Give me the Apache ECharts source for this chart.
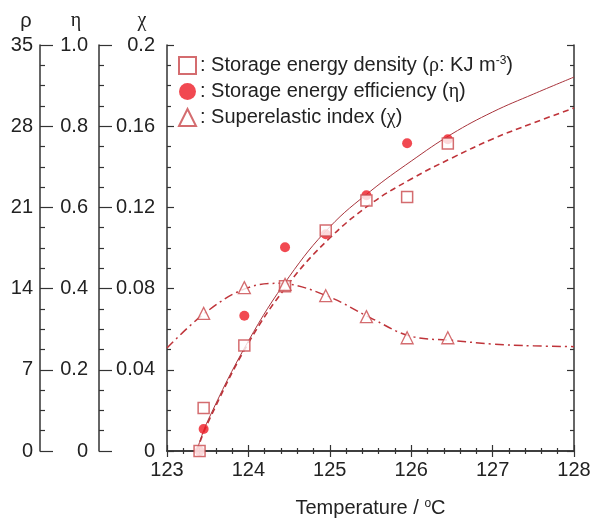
<!DOCTYPE html>
<html>
<head>
<meta charset="UTF-8">
<title>Storage energy vs temperature</title>
<script src="https://cdn.jsdelivr.net/npm/echarts@6/dist/echarts.min.js"></script>
<style>
  html, body { margin: 0; padding: 0; background: #fff; }
  #main { width: 591px; height: 519px; }
</style>
</head>
<body>
<div id="main"></div>
<script>
// measured points
const temps = [123.4, 123.45, 123.95, 124.45, 124.95, 125.45, 125.95, 126.45];
const density = [0, 3.7, 9.1, 14.2, 19.0, 21.6, 21.9, 26.5];
const efficiency = [0, 0.054, 0.333, 0.502, 0.534, 0.63, 0.758, 0.768];
const chiTemps = [123.45, 123.95, 124.45, 124.95, 125.45, 125.95, 126.45];
const chi = [0.0678, 0.0805, 0.0821, 0.0765, 0.0662, 0.0558, 0.0558];

// fitted curves
const fitTemps = [123.365, 123.5, 124, 124.5, 125, 125.5, 126, 126.5, 127, 127.5, 128];
const effFit = [0, 0.074, 0.271, 0.429, 0.552, 0.640, 0.714, 0.781, 0.835, 0.879, 0.921];
const denFit = [0, 2.41, 9.31, 14.48, 18.36, 21.29, 23.45, 25.26, 26.9, 28.28, 29.57];
const chiFitTemps = [123, 123.5, 124, 124.4, 124.5, 125, 125.5, 126, 126.5, 127, 127.5, 128];
const chiFit = [0.0507, 0.069, 0.0805, 0.0826, 0.0823, 0.0758, 0.0656, 0.0565, 0.0545, 0.0527, 0.0518, 0.0514];

const zip = (xs, ys) => xs.map((x, i) => [x, ys[i]]);

const markRed = '#c9474b';
const dotRed = '#ee1c25';
const lineRed = '#bf343a';
const ink = '#222';
const font = 'Liberation Sans, Arial, sans-serif';
const greek = 'Liberation Serif, Times New Roman, serif';
const fs = 20;
const supStyle = { fontSize: 12, fontFamily: font, color: ink, verticalAlign: 'top', padding: [0, 0, 9, 0] };

const chart = echarts.init(document.getElementById('main'));

function leftAxis(opt) {
    return Object.assign({
        type: 'value',
        position: 'left',
        nameLocation: 'end',
        nameGap: 14,
        nameTextStyle: { color: ink, fontSize: fs, fontFamily: greek, padding: [0, 46, 0, 0] },
        axisLine: { show: true, lineStyle: { color: '#333', width: 1.5 } },
        axisTick: { show: true, inside: true, length: 13, lineStyle: { color: '#333', width: 1.2 } },
        minorTick: { show: true, splitNumber: 4, length: 5, lineStyle: { color: '#333', width: 1.2 } },
        axisLabel: { color: ink, fontSize: fs, fontFamily: font, margin: 8 },
        splitLine: { show: false }
    }, opt);
}

const option = {
    backgroundColor: '#fff',
    animation: false,
    grid: { left: 167, right: 17, top: 45, bottom: 68, containLabel: false, outerBoundsMode: 'none' },
    legend: {
        data: ['density', 'efficiency', 'chi'],
        orient: 'vertical',
        left: 173,
        top: 50,
        itemWidth: 17,
        itemHeight: 17,
        itemGap: 6,
        formatter: function (name) {
            if (name === 'density') return ': Storage energy density ({g|ρ}: KJ m{sup|-3})';
            if (name === 'efficiency') return ': Storage energy efficiency ({g|η})';
            return ': Superelastic index ({g|χ})';
        },
        textStyle: {
            color: ink, fontSize: fs, fontFamily: font, padding: [0, 0, 0, -1],
            rich: {
                g: { fontSize: fs, fontFamily: greek, color: ink },
                sup: supStyle
            }
        }
    },
    xAxis: [{
        type: 'value',
        min: 123, max: 128, interval: 1,
        name: 'Temperature / {sup|o}C',
        nameLocation: 'middle',
        nameGap: 47,
        nameTextStyle: {
            color: ink, fontSize: fs, fontFamily: font,
            rich: { sup: supStyle }
        },
        axisLine: { lineStyle: { color: '#333', width: 1.5 } },
        axisTick: { inside: true, length: 6, lineStyle: { color: '#333', width: 1.2 } },
        minorTick: { show: true, splitNumber: 5, length: 3, lineStyle: { color: '#333', width: 1.2 } },
        axisLabel: { color: ink, fontSize: fs, fontFamily: font, margin: 9 },
        splitLine: { show: false }
    }, {
        type: 'value',
        position: 'top',
        min: 123, max: 128, interval: 1,
        axisLine: { lineStyle: { color: '#333', width: 1.5 } },
        axisTick: { inside: true, length: 6, lineStyle: { color: '#333', width: 1.2 } },
        minorTick: { show: true, splitNumber: 5, length: 3, lineStyle: { color: '#333', width: 1.2 } },
        axisLabel: { show: false },
        splitLine: { show: false }
    }],
    yAxis: [
        leftAxis({
            name: 'χ', min: 0, max: 0.2, interval: 0.04, offset: 0,
            axisTick: { show: true, inside: true, length: 7, lineStyle: { color: '#333', width: 1.2 } },
            minorTick: { show: true, splitNumber: 4, length: 4, lineStyle: { color: '#333', width: 1.2 } },
            axisLabel: { color: ink, fontSize: fs, fontFamily: font, margin: 12 },
            nameTextStyle: { color: ink, fontSize: fs, fontFamily: greek, padding: [0, 50, 0, 0] }
        }),
        leftAxis({
            name: 'η', min: 0, max: 1, interval: 0.2, offset: 68,
            axisLabel: {
                color: ink, fontSize: fs, fontFamily: font, margin: 11,
                formatter: v => v === 0 ? '0' : v.toFixed(1)
            }
        }),
        leftAxis({
            name: 'ρ', min: 0, max: 35, interval: 7, offset: 127,
            nameTextStyle: { color: ink, fontSize: fs, fontFamily: font, padding: [0, 28, 0, 0] },
            axisLabel: { color: ink, fontSize: fs, fontFamily: font, margin: 7 }
        }),
        {
            type: 'value', position: 'right', min: 0, max: 0.2, interval: 0.04,
            axisLine: { show: true, lineStyle: { color: '#333', width: 1.5 } },
            axisTick: { show: true, inside: true, length: 7, lineStyle: { color: '#333', width: 1.2 } },
            minorTick: { show: true, splitNumber: 4, length: 4, lineStyle: { color: '#333', width: 1.2 } },
            axisLabel: { show: false },
            splitLine: { show: false }
        }
    ],
    series: [
        {
            name: 'chiFit', type: 'line', yAxisIndex: 0, smooth: 0.4, showSymbol: false,
            lineStyle: { color: lineRed, width: 1.5, type: [9, 4, 2, 4] },
            data: zip(chiFitTemps, chiFit), z: 1
        },
        {
            name: 'denFit', type: 'line', yAxisIndex: 2, smooth: 0.4, showSymbol: false,
            lineStyle: { color: lineRed, width: 1.6, type: [6, 4] },
            data: zip(fitTemps, denFit), z: 1
        },
        {
            name: 'effFit', type: 'line', yAxisIndex: 1, smooth: 0.4, showSymbol: false,
            lineStyle: { color: '#a8343c', width: 1 },
            data: zip(fitTemps, effFit), z: 1
        },
        {
            name: 'efficiency', type: 'scatter', yAxisIndex: 1, symbol: 'circle', symbolSize: 10,
            itemStyle: { color: dotRed },
            data: zip(temps, efficiency), z: 3
        },
        {
            name: 'density', type: 'scatter', yAxisIndex: 2, symbol: 'rect', symbolSize: 11,
            itemStyle: { color: '#fff', borderColor: markRed, borderWidth: 1.5 },
            data: zip(temps, density), z: 4
        },
        {
            name: 'chi', type: 'scatter', yAxisIndex: 0, symbol: 'triangle', symbolSize: 12,
            itemStyle: { color: '#fff', borderColor: markRed, borderWidth: 1.3 },
            data: zip(chiTemps, chi), z: 4
        }
    ]
};

chart.setOption(option);
</script>
</body>
</html>
